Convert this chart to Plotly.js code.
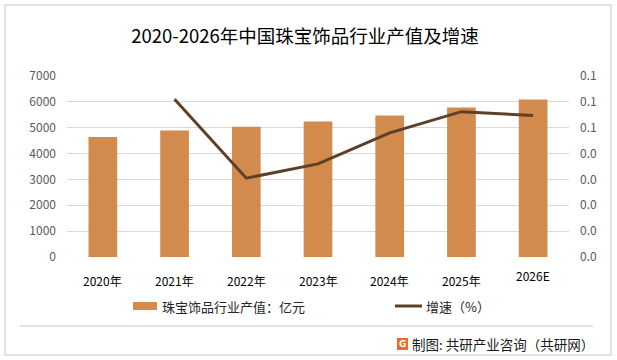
<!DOCTYPE html>
<html>
<head>
<meta charset="utf-8">
<script src="https://cdn.plot.ly/plotly-3.0.1.min.js"></script>
<style>html,body{margin:0;padding:0;background:#fff;}#chart{width:617px;height:360px;}</style>
</head>
<body>
<div id="chart"></div>
<script>
// ---- data ----
const categories = ['2020年', '2021年', '2022年', '2023年', '2024年', '2025年', '2026E'];
const outputValue = [4640, 4890, 5040, 5240, 5470, 5780, 6090];   // 亿元
const growthRate = [null, 0.061, 0.0305, 0.036, 0.048, 0.0562, 0.0547];
const leftTicks = [0, 1000, 2000, 3000, 4000, 5000, 6000, 7000];
const rightTickVals = [0, 0.01, 0.02, 0.03, 0.04, 0.05, 0.06, 0.07];
const rightTickText = ['0.0', '0.0', '0.0', '0.0', '0.0', '0.1', '0.1', '0.1'];
const titleText = '2020-2026年中国珠宝饰品行业产值及增速';
const barName = '珠宝饰品行业产值：亿元';
const lineName = '增速（%）';
const sourceText = '制图: 共研产业咨询（共研网）';

// ---- layout geometry ----
const W = 617, H = 360;
const mL = 67, mR = 48, mT = 76, mB = 103;
const pw = W - mL - mR, ph = H - mT - mB;
const px = x => (x - mL) / pw;
const py = y => (H - mB - y) / ph;

const FONT = '"Noto Sans CJK SC", "Noto Sans", sans-serif';
const barColor = '#D38B4D';
const lineColor = '#5E4029';

const traces = [
  {
    type: 'bar', x: categories, y: outputValue, name: barName,
    marker: {color: barColor}, width: 0.4, hoverinfo: 'skip'
  },
  {
    type: 'scatter', mode: 'lines', x: categories, y: growthRate, name: lineName,
    yaxis: 'y2', line: {color: lineColor, width: 3}, connectgaps: false, hoverinfo: 'skip'
  }
];

const shapes = [
  // outer frame
  {type: 'rect', xref: 'paper', yref: 'paper', x0: px(5), x1: px(611), y0: py(355), y1: py(5),
   line: {color: '#D9D9D9', width: 1.5}, fillcolor: 'rgba(0,0,0,0)', layer: 'below'},
  // footer separator
  {type: 'line', xref: 'paper', yref: 'paper', x0: px(20), x1: px(593), y0: py(326), y1: py(326),
   line: {color: '#D9D9D9', width: 1.5}},
  // legend swatches
  {type: 'rect', xref: 'paper', yref: 'paper', x0: px(133), x1: px(157), y0: py(310), y1: py(302),
   line: {width: 0}, fillcolor: barColor},
  {type: 'line', xref: 'paper', yref: 'paper', x0: px(395), x1: px(422), y0: py(306), y1: py(306),
   line: {color: lineColor, width: 3}},
  // logo
  {type: 'rect', xref: 'paper', yref: 'paper', x0: px(397), x1: px(408), y0: py(350), y1: py(338),
   line: {width: 0}, fillcolor: '#F06A22'}
];

const annotations = [];
categories.forEach((c, i) => {
  annotations.push({
    x: c, xref: 'x', y: 0, yref: 'paper', text: c, showarrow: false,
    yanchor: 'middle', yshift: (i === categories.length - 1) ? -18 : -23,
    font: {family: FONT, size: 12, color: '#000000'}
  });
});
annotations.push(
  {xref: 'paper', yref: 'paper', x: px(160), y: py(306), xanchor: 'left', yanchor: 'middle',
   text: barName, showarrow: false, font: {family: FONT, size: 13, color: '#262626'}},
  {xref: 'paper', yref: 'paper', x: px(424), y: py(306), xanchor: 'left', yanchor: 'middle',
   text: lineName, showarrow: false, font: {family: FONT, size: 13, color: '#262626'}},
  {xref: 'paper', yref: 'paper', x: px(596), y: py(344), xanchor: 'right', yanchor: 'middle',
   text: sourceText, showarrow: false, font: {family: FONT, size: 13.5, color: '#1a1a1a'}},
  {xref: 'paper', yref: 'paper', x: px(402.5), y: py(344), xanchor: 'center', yanchor: 'middle',
   text: '<b>G</b>', showarrow: false, font: {family: 'DejaVu Sans', size: 9, color: '#ffffff'}}
);

const layout = {
  width: W, height: H,
  margin: {l: mL, r: mR, t: mT, b: mB, pad: 0},
  paper_bgcolor: '#ffffff', plot_bgcolor: '#ffffff',
  showlegend: false,
  bargap: 0.6,
  title: {text: titleText, x: 305 / W, xanchor: 'center', y: 1 - 37 / H, yanchor: 'middle',
          font: {family: FONT, size: 18.5, color: '#000000'}},
  xaxis: {type: 'category', showticklabels: false, showgrid: false, zeroline: false,
          showline: false, ticks: '', range: [-0.5, 6.5]},
  yaxis: {range: [0, 7000], tickvals: leftTicks, ticktext: leftTicks.map(String),
          showgrid: true, gridcolor: '#D9D9D9', gridwidth: 1, zeroline: false, showline: false,
          ticks: '', ticklabelstandoff: 10,
          tickfont: {family: FONT, size: 12, color: '#595959'}},
  yaxis2: {overlaying: 'y', side: 'right', range: [0, 0.07], tickvals: rightTickVals, ticktext: rightTickText,
           showgrid: false, zeroline: false, showline: false, ticks: '', ticklabelstandoff: 10,
           tickfont: {family: FONT, size: 12, color: '#595959'}},
  shapes: shapes,
  annotations: annotations
};

Plotly.newPlot('chart', traces, layout, {displayModeBar: false, staticPlot: true});
</script>
</body>
</html>
